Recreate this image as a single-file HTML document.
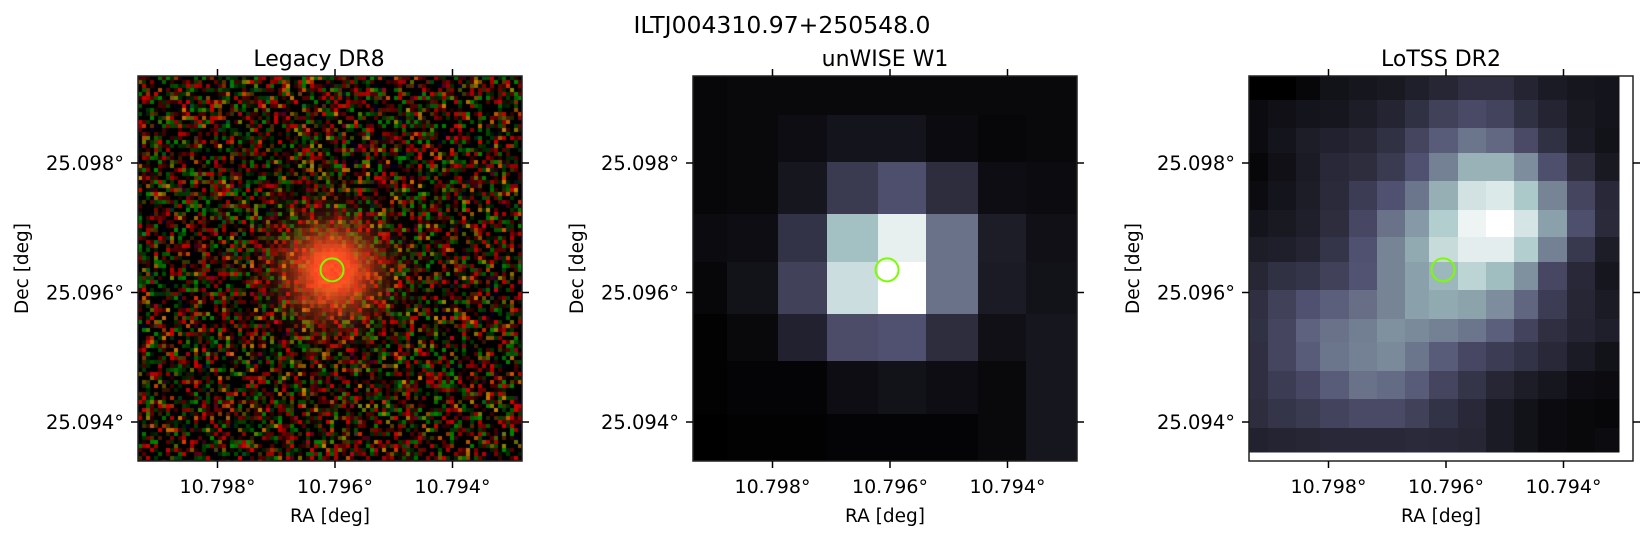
<!DOCTYPE html>
<html><head><meta charset="utf-8">
<style>
html,body{margin:0;padding:0;background:#fff;}
#wrap{position:relative;width:1647px;height:539px;overflow:hidden;font-family:"DejaVu Sans","Liberation Sans",sans-serif;}
canvas{position:absolute;}
svg{position:absolute;left:0;top:0;}
</style></head><body>
<div id="wrap">
<canvas id="legacy" width="384" height="385" style="left:138px;top:76px;"></canvas>
<svg id="fig" width="1647" height="539"></svg>
</div>
<script>
// ---- data ----
const panelTitles = ["Legacy DR8", "unWISE W1", "LoTSS DR2"];
const xTickLabels = ["10.798°", "10.796°", "10.794°"];
const xTickVals = [10.798, 10.796, 10.794];
const yTickLabels = ["25.098°", "25.096°", "25.094°"];
const yTickVals = [25.098, 25.096, 25.094];
const sourceRA = [10.79605];
const sourceDec = [25.09635];
// unWISE W1 cell intensities (rows top->bottom)
const unwiseRows = [
 [0.03,0.04,0.04,0.04,0.04,0.04,0.04,0.04],
 [0.03,0.04,0.06,0.09,0.09,0.05,0.03,0.04],
 [0.03,0.04,0.10,0.26,0.35,0.20,0.06,0.05],
 [0.05,0.06,0.23,0.73,0.93,0.47,0.13,0.07],
 [0.03,0.08,0.29,0.85,1.00,0.47,0.12,0.08],
 [0.01,0.04,0.15,0.34,0.36,0.20,0.07,0.10],
 [0.01,0.02,0.02,0.06,0.08,0.06,0.04,0.10],
 [0.00,0.01,0.01,0.02,0.02,0.02,0.04,0.10]
];
// LoTSS DR2 cell intensities
const lotssRows = [
 [0.00,0.00,0.03,0.08,0.10,0.11,0.14,0.17,0.21,0.21,0.16,0.12,0.10,0.09],
 [0.05,0.07,0.09,0.10,0.13,0.16,0.22,0.29,0.33,0.30,0.22,0.16,0.11,0.09],
 [0.05,0.09,0.13,0.15,0.17,0.22,0.31,0.40,0.48,0.44,0.33,0.22,0.12,0.08],
 [0.03,0.07,0.12,0.18,0.20,0.26,0.36,0.52,0.68,0.68,0.56,0.35,0.20,0.11],
 [0.05,0.09,0.13,0.19,0.27,0.36,0.48,0.67,0.87,0.90,0.76,0.53,0.31,0.18],
 [0.09,0.11,0.14,0.20,0.32,0.47,0.60,0.78,0.95,1.00,0.88,0.62,0.35,0.19],
 [0.13,0.14,0.16,0.24,0.36,0.53,0.65,0.84,0.92,0.92,0.78,0.52,0.25,0.13],
 [0.17,0.22,0.24,0.29,0.37,0.53,0.62,0.70,0.81,0.72,0.57,0.32,0.18,0.10],
 [0.21,0.29,0.36,0.41,0.46,0.53,0.62,0.65,0.63,0.56,0.43,0.27,0.17,0.12],
 [0.22,0.31,0.42,0.47,0.51,0.57,0.55,0.52,0.48,0.41,0.30,0.21,0.16,0.14],
 [0.21,0.31,0.40,0.48,0.52,0.55,0.48,0.40,0.32,0.27,0.23,0.18,0.12,0.08],
 [0.21,0.27,0.32,0.40,0.47,0.45,0.40,0.31,0.24,0.17,0.13,0.10,0.06,0.05],
 [0.20,0.24,0.26,0.30,0.33,0.33,0.29,0.23,0.18,0.12,0.08,0.05,0.04,0.03],
 [0.15,0.16,0.17,0.18,0.18,0.18,0.19,0.18,0.17,0.12,0.08,0.05,0.04,0.05]
];
// pixel grid edges (layout, per panel)
const unwiseXEdges = [0,34,85,134,185,233,285,333,384];
const unwiseYEdges = [0,39,86,138,186,238,285,338,385];
const lotssXEdges = [0,19,47,71,100,128,156,180,209,237,265,289,318,346,370];
const lotssYEdges = [0,24,52,77,105,134,161,186,214,243,266,295,323,352,376];

// ---- layout ----
const panelLeft = [138, 693, 1249];
const titleOffset = [-11, 0, 0];
const PT = 76, PW = 384, PH = 385;
const NS = "http://www.w3.org/2000/svg";
const svg = document.getElementById('fig');
function xScale(ra){ return 197 + (10.796 - ra) / 0.002 * 117.5; }
function yScale(dec){ return 216.5 + (25.096 - dec) / 0.002 * 129.5; }

function mk(tag, attrs, parent){
  const e = document.createElementNS(NS, tag);
  for (const k in attrs) e.setAttribute(k, attrs[k]);
  (parent||svg).appendChild(e);
  return e;
}
function bone(v){
  v = Math.max(0, Math.min(1, v));
  let r = v < 0.746 ? v*0.652/0.746 : 0.652 + (v-0.746)*0.348/0.254;
  let g = v < 0.365 ? v*0.319/0.365 : (v < 0.746 ? 0.319 + (v-0.365)*0.458/0.381 : 0.777 + (v-0.746)*0.223/0.254);
  let b = v < 0.365 ? v*0.444/0.365 : 0.444 + (v-0.365)*0.556/0.635;
  return 'rgb(' + Math.round(r*255) + ',' + Math.round(g*255) + ',' + Math.round(b*255) + ')';
}

// ---- legacy noise image (deterministic texture) ----
(function(){
  const c = document.getElementById('legacy').getContext('2d');
  c.fillStyle = '#000'; c.fillRect(0,0,384,385);
  let s = 12345;
  function rnd(){ s = (s*1103515245 + 12345) & 0x7fffffff; return s / 0x7fffffff; }
  const cx = xScale(sourceRA[0]), cy = yScale(sourceDec[0]);
  const px = 4;
  for (let j=0;j<97;j++) for (let i=0;i<96;i++){
    const x = i*px+2, y = j*px+2;
    const d = Math.hypot(x-cx, y-cy);
    const glow = Math.exp(-(d*d)/(2*30*30));
    const halo = Math.exp(-(d*d)/(2*60*60));
    let r = rnd(), g = rnd(), b = rnd();
    let R = r > 0.6 - halo*0.3 ? (r-0.45)*380 : 0;
    let G = g > 0.66 - halo*0.15 ? (g-0.55)*300 : 0;
    let B = b > 0.92 ? (b-0.9)*350 : 0;
    if (rnd() < 0.35) { R *= 0.45; G *= 0.45; }
    const k = Math.min(1, glow*1.15);
    R = R*(1-k) + k*255; G = G*(1-k) + k*(70 + 25*rnd()); B = B*(1-k) + k*35;
    c.fillStyle = 'rgb(' + Math.min(255,R|0) + ',' + Math.min(255,G|0) + ',' + Math.min(255,B|0) + ')';
    c.fillRect(i*px, j*px, px, px);
  }
})();

// ---- heatmap panels ----
function drawGrid(rows, xe, ye, left, name){
  const g = mk('g', {});
  
  
  rows.forEach((row, r) => row.forEach((v, ci) => {
    const rect = mk('rect', {x: left + xe[ci], y: PT + ye[r], width: xe[ci+1]-xe[ci]+0.5, height: ye[r+1]-ye[r]+0.5, fill: bone(v)}, g);
    
    
  }));
}
drawGrid(unwiseRows, unwiseXEdges, unwiseYEdges, panelLeft[1], 'unwise-w1');
drawGrid(lotssRows, lotssXEdges, lotssYEdges, panelLeft[2], 'lotss-dr2');

// ---- axes ----
const suptitle = mk('text', {x: 782, y: 33, 'text-anchor': 'middle', 'font-size': 23.5, fill: '#000'});
suptitle.textContent = 'ILTJ004310.97+250548.0';



panelLeft.forEach((L, p) => {
  const frame = mk('rect', {x: L, y: PT, width: PW, height: PH, fill: 'none', stroke: '#222', 'stroke-width': 1.5});
  
  
  const t = mk('text', {x: L + PW/2 + titleOffset[p], y: 66, 'text-anchor': 'middle', 'font-size': 22, fill: '#000'});
  t.textContent = panelTitles[p];
  
  
  xTickVals.forEach((v, i) => {
    const x = L + xScale(v);
    const tb = mk('line', {x1: x, x2: x, y1: PT+PH, y2: PT+PH+7, stroke: '#000', 'stroke-width': 1.5});
    
    
    const tt = mk('line', {x1: x, x2: x, y1: PT, y2: PT-7, stroke: '#000', 'stroke-width': 1.5});
    
    
    const lab = mk('text', {x: x, y: 493, 'text-anchor': 'middle', 'font-size': 19, fill: '#000'});
    lab.textContent = xTickLabels[i];
    
    
  });
  yTickVals.forEach((v, i) => {
    const y = PT + yScale(v);
    const tl = mk('line', {x1: L-7, x2: L, y1: y, y2: y, stroke: '#000', 'stroke-width': 1.5});
    
    
    const tr = mk('line', {x1: L+PW, x2: L+PW+7, y1: y, y2: y, stroke: '#000', 'stroke-width': 1.5});
    
    
    const lab = mk('text', {x: L-14, y: y+7, 'text-anchor': 'end', 'font-size': 19.5, fill: '#000'});
    lab.textContent = yTickLabels[i];
    
    
  });
  const xl = mk('text', {x: L + PW/2, y: 522, 'text-anchor': 'middle', 'font-size': 18.5, fill: '#000'});
  xl.textContent = 'RA [deg]';
  
  
  const yx = L - 110, yy = PT + PH/2;
  const yl = mk('text', {x: yx, y: yy, 'text-anchor': 'middle', 'font-size': 18.5, fill: '#000', transform: 'rotate(-90 ' + yx + ' ' + yy + ')'});
  yl.textContent = 'Dec [deg]';
  
  
  const circ = mk('circle', {cx: L + xScale(sourceRA[0]), cy: PT + yScale(sourceDec[0]), r: 11.5, fill: 'none', stroke: '#7cfc00', 'stroke-width': 2});
  
  
});
</script>
</body></html>
